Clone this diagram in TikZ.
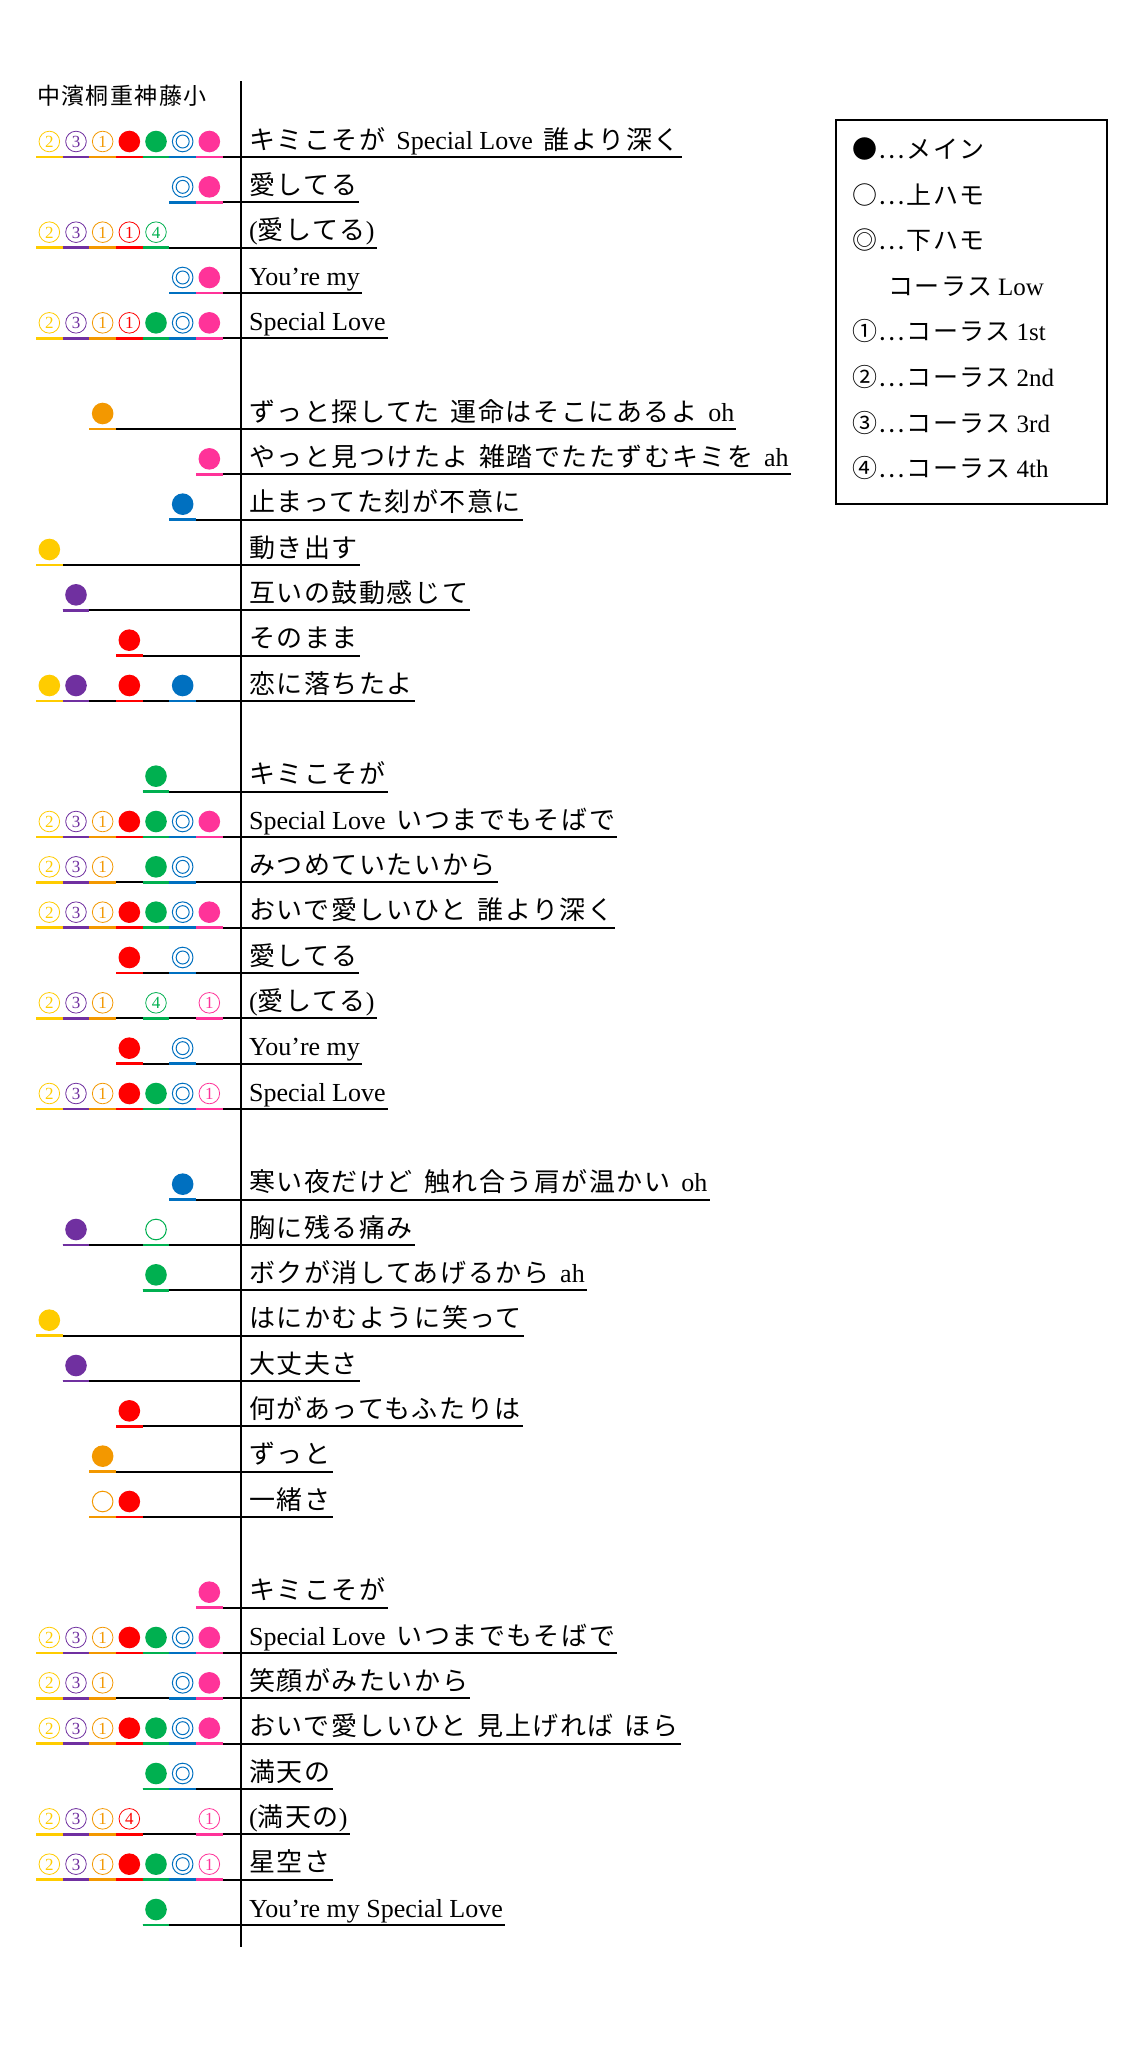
\documentclass[tikz,border=0pt]{standalone}
\usepackage{fontspec}
\setmainfont{Liberation Serif}
\newfontfamily\cjk[LetterSpace=6]{Noto Sans CJK JP}
\usetikzlibrary{calc}
\definecolor{col1}{HTML}{FFCC00}
\definecolor{col2}{HTML}{7030A0}
\definecolor{col3}{HTML}{F39800}
\definecolor{col4}{HTML}{FF0000}
\definecolor{col5}{HTML}{00B050}
\definecolor{col6}{HTML}{0070C0}
\definecolor{col7}{HTML}{FF3399}
\newcommand\J[1]{{\cjk #1}}
\newcommand\gap{\hspace{11pt}}
\tikzset{
 lyric/.style={inner sep=0pt,font=\fontsize{26}{26}\selectfont,anchor=base west},
 blk/.style={line width=1.7pt,black},
 digit/.style={inner sep=0pt,font=\fontsize{17}{17}\selectfont},
 legend/.style={inner sep=0pt,anchor=base west,font=\fontsize{25}{25}\selectfont}
}
\newcommand\symb[4]{%
 \ifnum#1=5 \fill[col#2] (#3,#4) circle (10.8pt);\fi
 \ifnum#1=6 \draw[col#2,line width=1pt] (#3,#4) circle (10.3pt) (#3,#4) circle (6.5pt);\fi
 \ifnum#1=7 \draw[col#2,line width=1pt] (#3,#4) circle (10.3pt);\fi
 \ifnum#1<5 \draw[col#2,line width=0.8pt] (#3,#4) circle (10.3pt);
   \node[digit,text=col#2] at (#3,#4+0.5) {#1};\fi}
\newcommand\lrow[4]{%
 \pgfmathsetmacro\yu{157+45.333*#1}
 \node[lyric] (t#1) at (249,\yu-8) {#4};
 \draw[blk] ({36+26.667*(#2-1)},\yu) -- ($(t#1.base east)+(2,8)$);
 \foreach \c [count=\k] in {#3} {%
   \ifnum\c>0
     \pgfmathsetmacro\xc{36+26.667*(\k-0.5)}
     \draw[line width=2.4pt,col\k] ({\xc-13.33},\yu) -- ({\xc+13.33},\yu);
     \symb{\c}{\k}{\xc}{\yu-15.5}
   \fi}}
\begin{document}
\begin{tikzpicture}[x=1pt,y=-1pt]
\useasboundingbox[fill=white] (0,0) rectangle (1142,2048);
\node[inner sep=0pt,anchor=base west,font=\fontsize{23}{23}\selectfont] (hdr) at (37,104) {\J{中濱桐重神藤小}};
\coordinate (vtop) at (240.7,81);
\coordinate (vbot) at (240.7,1947);
\draw[line width=1.7pt] (vtop) -- (vbot);
\lrow{0}{1}{2,3,1,5,5,6,5}{\J{キミこそが}\gap Special Love\gap\J{誰より深く}}
\lrow{1}{6}{0,0,0,0,0,6,5}{\J{愛してる}}
\lrow{2}{1}{2,3,1,1,4,0,0}{(\J{愛してる})}
\lrow{3}{6}{0,0,0,0,0,6,5}{You’re my}
\lrow{4}{1}{2,3,1,1,5,6,5}{Special Love}
\lrow{6}{3}{0,0,5,0,0,0,0}{\J{ずっと探してた}\gap\J{運命はそこにあるよ}\gap oh}
\lrow{7}{7}{0,0,0,0,0,0,5}{\J{やっと見つけたよ}\gap\J{雑踏でたたずむキミを}\gap ah}
\lrow{8}{6}{0,0,0,0,0,5,0}{\J{止まってた刻が不意に}}
\lrow{9}{1}{5,0,0,0,0,0,0}{\J{動き出す}}
\lrow{10}{2}{0,5,0,0,0,0,0}{\J{互いの鼓動感じて}}
\lrow{11}{4}{0,0,0,5,0,0,0}{\J{そのまま}}
\lrow{12}{1}{5,5,0,5,0,5,0}{\J{恋に落ちたよ}}
\lrow{14}{5}{0,0,0,0,5,0,0}{\J{キミこそが}}
\lrow{15}{1}{2,3,1,5,5,6,5}{Special Love\gap\J{いつまでもそばで}}
\lrow{16}{1}{2,3,1,0,5,6,0}{\J{みつめていたいから}}
\lrow{17}{1}{2,3,1,5,5,6,5}{\J{おいで愛しいひと}\gap\J{誰より深く}}
\lrow{18}{4}{0,0,0,5,0,6,0}{\J{愛してる}}
\lrow{19}{1}{2,3,1,0,4,0,1}{(\J{愛してる})}
\lrow{20}{4}{0,0,0,5,0,6,0}{You’re my}
\lrow{21}{1}{2,3,1,5,5,6,1}{Special Love}
\lrow{23}{6}{0,0,0,0,0,5,0}{\J{寒い夜だけど}\gap\J{触れ合う肩が温かい}\gap oh}
\lrow{24}{2}{0,5,0,0,7,0,0}{\J{胸に残る痛み}}
\lrow{25}{5}{0,0,0,0,5,0,0}{\J{ボクが消してあげるから}\gap ah}
\lrow{26}{1}{5,0,0,0,0,0,0}{\J{はにかむように笑って}}
\lrow{27}{2}{0,5,0,0,0,0,0}{\J{大丈夫さ}}
\lrow{28}{4}{0,0,0,5,0,0,0}{\J{何があってもふたりは}}
\lrow{29}{3}{0,0,5,0,0,0,0}{\J{ずっと}}
\lrow{30}{3}{0,0,7,5,0,0,0}{\J{一緒さ}}
\lrow{32}{7}{0,0,0,0,0,0,5}{\J{キミこそが}}
\lrow{33}{1}{2,3,1,5,5,6,5}{Special Love\gap\J{いつまでもそばで}}
\lrow{34}{1}{2,3,1,0,0,6,5}{\J{笑顔がみたいから}}
\lrow{35}{1}{2,3,1,5,5,6,5}{\J{おいで愛しいひと}\gap\J{見上げれば}\gap\J{ほら}}
\lrow{36}{5}{0,0,0,0,5,6,0}{\J{満天の}}
\lrow{37}{1}{2,3,1,4,0,0,1}{(\J{満天の})}
\lrow{38}{1}{2,3,1,5,5,6,1}{\J{星空さ}}
\lrow{39}{5}{0,0,0,0,5,0,0}{You’re my Special Love}
% legend
\draw[line width=1.3pt] (836,120) rectangle (1107,504);
\node[legend] (l1) at (852,158) {\J{●…メイン}};
\node[legend] (l2) at (852,204) {\J{○…上ハモ}};
\node[legend] (l3) at (852,249) {\J{◎…下ハモ}};
\node[legend] (l4) at (888,295) {\J{コーラス}\hspace{6pt}Low};
\node[legend] (l5) at (852,340) {\J{①…コーラス}\hspace{6pt}1st};
\node[legend] (l6) at (852,386) {\J{②…コーラス}\hspace{6pt}2nd};
\node[legend] (l7) at (852,432) {\J{③…コーラス}\hspace{6pt}3rd};
\node[legend] (l8) at (852,477) {\J{④…コーラス}\hspace{6pt}4th};
\end{tikzpicture}
\end{document}
